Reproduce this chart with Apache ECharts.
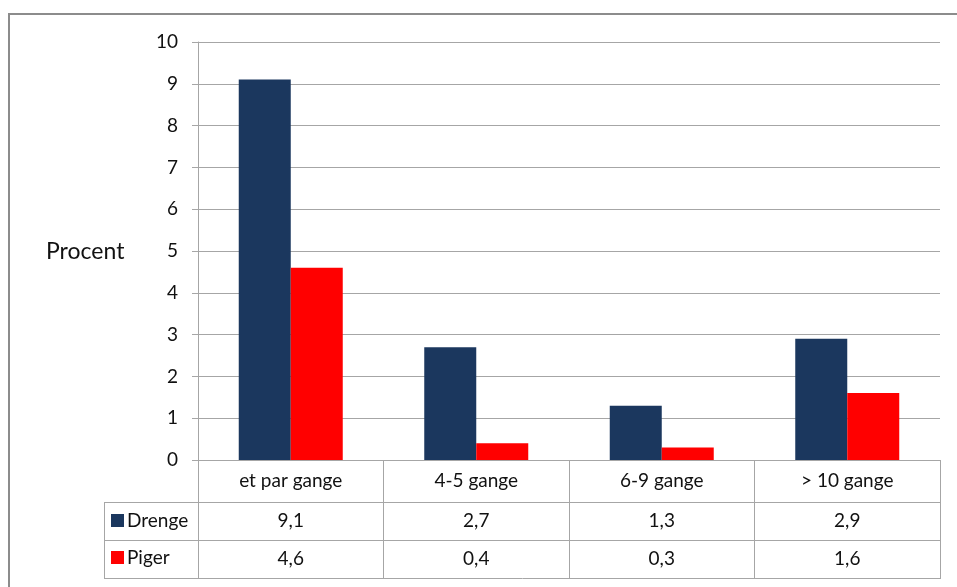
<!DOCTYPE html>
<html>
<head>
<meta charset="utf-8">
<script src="https://cdn.jsdelivr.net/npm/echarts@6/dist/echarts.min.js"></script>
<style>
  html, body { margin: 0; padding: 0; background: #fff; }
  #chart { width: 957px; height: 587px; }
</style>
</head>
<body>
<div id="chart"></div>
<script>
// Frequency categories and the share (in percent) for boys and girls
const categories = ['et par gange', '4-5 gange', '6-9 gange', '> 10 gange'];
const drenge = [9.1, 2.7, 1.3, 2.9];
const piger = [4.6, 0.4, 0.3, 1.6];
const yTicks = [0, 1, 2, 3, 4, 5, 6, 7, 8, 9, 10];
const seriesNames = ['Drenge', 'Piger'];

const FONT = 'Lato, "Open Sans", sans-serif';
const GRID_COLOR = '#a6a6a6';
const TEXT_COLOR = '#111';
const fmt = v => String(v).replace('.', ',');

const chart = echarts.init(document.getElementById('chart'));

// Grid geometry (pixels)
const gridLeft = 198, gridRight = 940, gridTop = 42, gridBottom = 460;
const tableLeft = 104, row1 = 502, row2 = 540, row3 = 578;

chart.setOption({
  animation: false,
  backgroundColor: '#fff',
  textStyle: { fontFamily: FONT },
  grid: {
    left: gridLeft,
    right: 957 - gridRight,
    top: gridTop,
    bottom: 587 - gridBottom,
    containLabel: false
  },
  legend: {
    data: seriesNames,
    orient: 'vertical',
    left: 106,
    top: 506,
    padding: 5,
    icon: 'rect',
    itemWidth: 13,
    itemHeight: 13,
    itemGap: 18,
    selectedMode: false,
    textStyle: { fontFamily: FONT, fontSize: 19, color: TEXT_COLOR, padding: [0, 0, 0, -2] }
  },
  xAxis: {
    type: 'category',
    data: categories,
    boundaryGap: true,
    axisLine: { show: true, lineStyle: { color: GRID_COLOR, width: 1 } },
    axisTick: {
      show: true,
      interval: 0,
      inside: false,
      length: row3 - gridBottom,
      lineStyle: { color: GRID_COLOR, width: 1 }
    },
    axisLabel: {
      interval: 0,
      margin: 0,
      formatter: (name, idx) =>
        `{c|${name}}\n{v|${fmt(drenge[idx])}}\n{v|${fmt(piger[idx])}}`,
      rich: {
        c: { fontFamily: FONT, fontSize: 19, color: TEXT_COLOR, lineHeight: 42, height: 42 },
        v: { fontFamily: FONT, fontSize: 19, color: TEXT_COLOR, lineHeight: 38, height: 38 }
      }
    }
  },
  yAxis: {
    type: 'value',
    min: yTicks[0],
    max: yTicks[yTicks.length - 1],
    interval: 1,
    axisLine: { show: true, lineStyle: { color: GRID_COLOR, width: 1 } },
    axisTick: { show: true, inside: false, length: 6, lineStyle: { color: GRID_COLOR } },
    axisLabel: { fontFamily: FONT, fontSize: 19, color: TEXT_COLOR, margin: 20 },
    splitLine: { show: true, lineStyle: { color: GRID_COLOR, width: 1 } }
  },
  series: [
    {
      name: seriesNames[0],
      type: 'bar',
      data: drenge,
      barWidth: 52,
      barGap: '0%',
      itemStyle: { color: '#1b375e' }
    },
    {
      name: seriesNames[1],
      type: 'bar',
      data: piger,
      barWidth: 52,
      barGap: '0%',
      itemStyle: { color: '#ff0000' }
    }
  ],
  graphic: [
    // outer frame (only the top and left edges fall inside the canvas)
    {
      type: 'rect',
      shape: { x: 9, y: 14, width: 1200, height: 1200 },
      style: { fill: 'none', stroke: '#8c8c8c', lineWidth: 2 },
      silent: true
    },
    // y axis title
    {
      type: 'text',
      left: 46,
      top: 240,
      style: { text: 'Procent', fontFamily: FONT, fontSize: 23, fill: TEXT_COLOR }
    },
    // data table rules
    {
      type: 'line',
      shape: { x1: tableLeft, y1: row1 + 0.5, x2: gridRight, y2: row1 + 0.5 },
      style: { stroke: GRID_COLOR, lineWidth: 1 }
    },
    {
      type: 'line',
      shape: { x1: tableLeft, y1: row2 + 0.5, x2: gridRight, y2: row2 + 0.5 },
      style: { stroke: GRID_COLOR, lineWidth: 1 }
    },
    {
      type: 'line',
      shape: { x1: tableLeft, y1: row3 + 0.5, x2: gridRight + 1, y2: row3 + 0.5 },
      style: { stroke: GRID_COLOR, lineWidth: 1 }
    },
    {
      type: 'line',
      shape: { x1: tableLeft + 0.5, y1: row1, x2: tableLeft + 0.5, y2: row3 },
      style: { stroke: GRID_COLOR, lineWidth: 1 }
    }
  ]
});
</script>
</body>
</html>
